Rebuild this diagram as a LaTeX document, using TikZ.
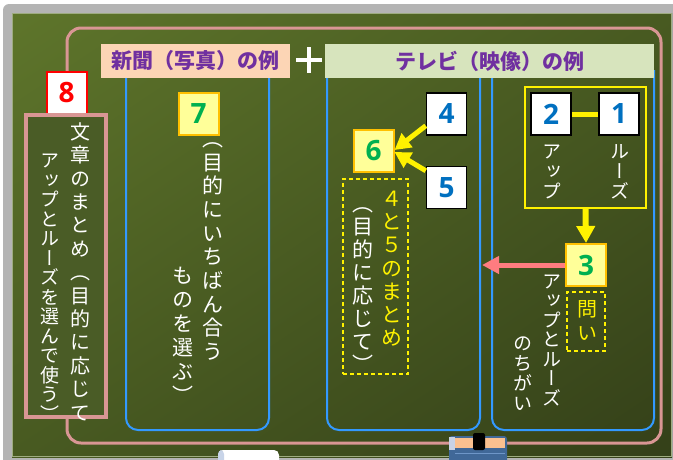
\documentclass[tikz,border=0pt]{standalone}
\usepackage{fontspec}
\usetikzlibrary{arrows.meta,calc,shadings}
\newfontfamily\jp{Noto Sans CJK JP}
\newfontfamily\jpv[RawFeature=+vert]{Noto Sans CJK JP}
\newfontfamily\numf{Open Sans}
\definecolor{pinkline}{RGB}{217,150,148}
\definecolor{panelblue}{RGB}{51,153,255}
\definecolor{peach}{RGB}{252,213,181}
\definecolor{lgreen}{RGB}{215,228,189}
\definecolor{hpurple}{RGB}{112,48,160}
\definecolor{boxyellow}{RGB}{255,255,153}
\definecolor{boxorange}{RGB}{255,192,0}
\definecolor{numgreen}{RGB}{0,176,80}
\definecolor{numblue}{RGB}{0,112,192}
\definecolor{salmon}{RGB}{255,124,128}
\definecolor{boardA}{RGB}{94,117,43}
\definecolor{boardB}{RGB}{72,90,33}
\definecolor{boardC}{RGB}{52,64,25}
\definecolor{tbfill}{RGB}{74,92,38}
\definecolor{framegray}{RGB}{180,180,180}
\definecolor{erblue}{RGB}{64,104,152}
\definecolor{erpeach}{RGB}{250,192,144}
\definecolor{erlight}{RGB}{200,210,230}
\definecolor{erline}{RGB}{110,150,200}
\definecolor{chalkcap}{RGB}{200,212,232}
\makeatletter
\newcommand\vcol[2]{\vbox{\offinterlineskip\def\vc@p{#1}\vc@a#2\vc@end}}
\def\vc@end{\vc@end}
\def\vc@a#1{\ifx#1\vc@end\else\vc@box{#1}\expandafter\vc@a\fi}
\def\vc@box#1{\vbox to \vc@p{\vss\hbox to 1em{\hss\smash{#1}\vrule height .88em depth .12em width 0pt\hss}\vss}}
\makeatother
\begin{document}
\begin{tikzpicture}[x=1pt,y=-1pt,
  numbox/.style={draw, line width=1.5pt, minimum width=40pt, minimum height=42pt, inner sep=0pt,
    font=\numf\bfseries\fontsize{28}{28}\selectfont},
  whitebox/.style={numbox, fill=white, draw=black, text=numblue},
  ybox/.style={numbox, fill=boxyellow, draw=boxorange, line width=2pt, text=numgreen},
  redbox/.style={numbox, fill=white, draw=red, line width=2pt, text=red},
  vtxt/.style={inner sep=0pt, anchor=north, text=white},
  panel/.style={draw=panelblue, line width=2pt, rounded corners=12pt},
  hdr/.style={inner sep=0pt, minimum height=34pt, font=\jp\bfseries\fontsize{21}{21}\selectfont, text=hpurple},
  dashbox/.style={draw=yellow, line width=1.2pt, dash pattern=on 4pt off 3pt, inner sep=0pt},
  yarrow/.style={draw=yellow, line width=5pt, -{Triangle[width=17pt,length=16pt]}},
  parrow/.style={draw=salmon, line width=5pt, -{Triangle[width=17pt,length=17pt]}}
]
\useasboundingbox (0,0) rectangle (673,459);
% background and board
\fill[white] (0,0) rectangle (673,459);
\fill[framegray, rounded corners=6pt] (3,4) rectangle (690,480);
\shade[upper left=boardA, upper right=boardB, lower left=boardB, lower right=boardC] (12,13) rectangle (672,457);
\draw[color=boardA!60!white, line width=0.8pt] (12.5,13.5) rectangle (671.5,456.5);
% pink frame
\draw[pinkline, line width=3pt, rounded corners=14pt] (67,28) rectangle (661,443);
% panels
\draw[panel] (126,78) -- (126,430) -- (269,430) -- (269,78);
\draw[panel] (327,78) -- (327,430) -- (480,430) -- (480,78);
\draw[panel] (492,78) -- (492,430) -- (654,430) -- (654,70);
% headers
\node[hdr, fill=peach, minimum width=189pt] (h1) at (195.5,61) {新聞（写真）の例};
\node[hdr, fill=lgreen, minimum width=329pt] (h2) at (489.5,61) {テレビ（映像）の例};
\draw[white, line width=4pt] (296,60) -- (322,60) (309,47) -- (309,73);
% box 8 and its text box
\node[redbox] (b8) at (66.5,93) {8};
\node[draw=pinkline, line width=4pt, fill=tbfill, minimum width=80pt, minimum height=302pt, inner sep=0pt] (tb8) at (66,266) {};
\node[vtxt, font=\jpv\fontsize{20}{20}\selectfont] (t8a) at (80,119.7) {\vcol{23.4pt}{文章のまとめ（目的に応じて}};
\node[vtxt, font=\jpv\fontsize{19}{19}\selectfont] (t8b) at (50,150.5) {\vcol{19.5pt}{アップとルーズを選んで使う）}};
% panel 1
\node[ybox] (b7) at (198.5,114) {7};
\node[vtxt, font=\jpv\fontsize{21}{21}\selectfont] (t7a) at (213,126.3) {\vcol{23.7pt}{（目的にいちばん合う}};
\node[vtxt, font=\jpv\fontsize{21}{21}\selectfont] (t7b) at (183,263.8) {\vcol{24pt}{ものを選ぶ）}};
% panel 2
\node[whitebox] (b4) at (446.5,114) {4};
\node[whitebox] (b5) at (446.5,187.5) {5};
\node[ybox] (b6) at (373.5,151) {6};
\draw[yarrow] ($(b4.south west)+(0,-10)$) -- ($(b6.east)+(0,-1)$);
\draw[yarrow] ($(b5.north west)+(0,5)$) -- ($(b6.east)+(0,1)$);
\node[dashbox, minimum width=65pt, minimum height=195pt] (db1) at (375.5,276.5) {};
\node[vtxt, text=yellow, font=\jpv\fontsize{21}{21}\selectfont] (t45) at (392,186.3) {\vcol{23.3pt}{４と５のまとめ}};
\node[vtxt, font=\jpv\fontsize{21}{21}\selectfont] (t45b) at (363,192.3) {\vcol{23pt}{（目的に応じて）}};
% panel 3
\node[draw=yellow, line width=1.5pt, minimum width=121pt, minimum height=121pt, inner sep=0pt] (yf) at (585.5,147.5) {};
\node[whitebox] (b2) at (551,114) {2};
\node[whitebox] (b1) at (619,114) {1};
\draw[yellow, line width=5pt] (b2.east) -- (b1.west);
\node[vtxt, font=\jpv\fontsize{19}{19}\selectfont] (tup) at (552,141) {\vcol{20pt}{アップ}};
\node[vtxt, font=\jpv\fontsize{19}{19}\selectfont] (tloose) at (620,141) {\vcol{20pt}{ルーズ}};
\node[ybox] (b3) at (586,265) {3};
\draw[yarrow, line width=6pt, -{Triangle[width=18pt,length=17pt]}] (yf.south) -- (b3.north);
\coordinate (pend) at (482,265);
\draw[parrow] (b3.west) -- (pend);
\node[dashbox, minimum width=38pt, minimum height=59pt] (db2) at (586,321.5) {};
\node[vtxt, text=yellow, font=\jpv\fontsize{20}{20}\selectfont] (tq) at (587,296.4) {\vcol{24pt}{問い}};
\node[vtxt, font=\jpv\fontsize{19}{19}\selectfont] (tdiff) at (552,271.2) {\vcol{19.5pt}{アップとルーズ}};
\node[vtxt, font=\jpv\fontsize{19}{19}\selectfont] (tdiff2) at (523,333) {\vcol{20pt}{のちがい}};
% chalk and eraser
\fill[white, rounded corners=5pt] (218,450) rectangle (279,468);
\fill[chalkcap, rounded corners=4pt] (218,450) rectangle (224,468);
\fill[erblue, rounded corners=3pt] (449,436) rectangle (507,470);
\fill[erpeach] (451,438) rectangle (505,448);
\fill[erlight] (449,437) rectangle (455,450);
\draw[erline, line width=0.8pt] (455,453) -- (505,453);
\fill[black, rounded corners=2pt] (473,433) rectangle (485,450);
\end{tikzpicture}
\end{document}
